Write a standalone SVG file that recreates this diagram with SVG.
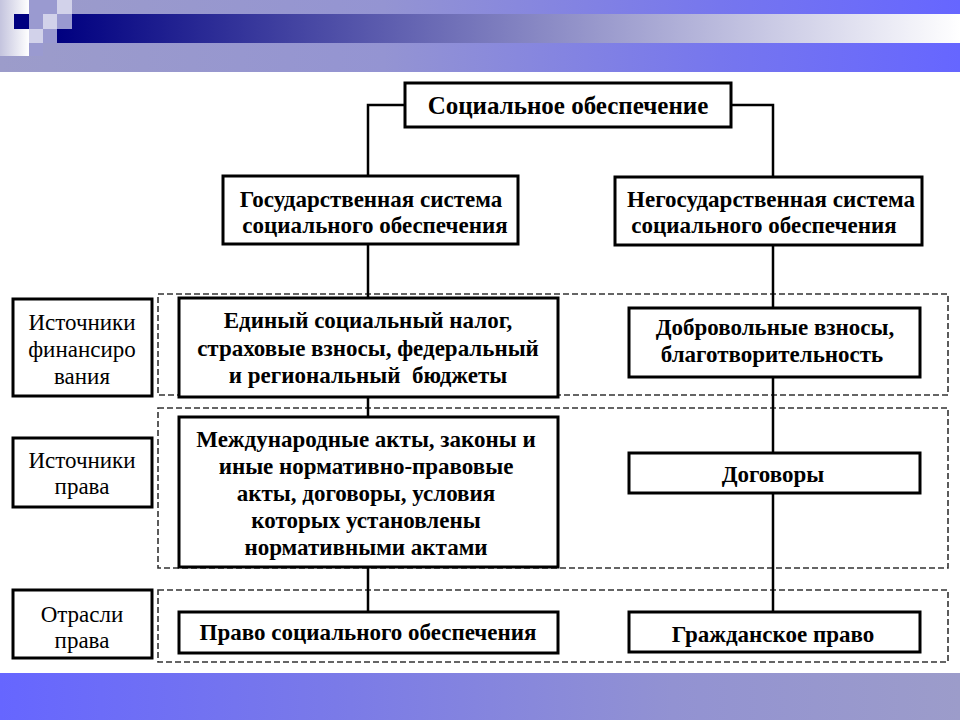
<svg xmlns="http://www.w3.org/2000/svg" width="960" height="720" viewBox="0 0 960 720">
<defs>
<linearGradient id="gTop" x1="0" y1="0" x2="1" y2="0">
<stop offset="0" stop-color="#9c9cca"/>
<stop offset="0.4" stop-color="#9494d2"/>
<stop offset="0.75" stop-color="#7676ee"/>
<stop offset="1" stop-color="#6666ff"/>
</linearGradient>
<linearGradient id="gBot" x1="0" y1="0" x2="1" y2="0">
<stop offset="0" stop-color="#6666ff"/>
<stop offset="0.35" stop-color="#7a7ae8"/>
<stop offset="0.7" stop-color="#9292d2"/>
<stop offset="1" stop-color="#9c9cca"/>
</linearGradient>
<linearGradient id="gNavy" x1="57" y1="0" x2="960" y2="0" gradientUnits="userSpaceOnUse">
<stop offset="0" stop-color="#000080"/>
<stop offset="1" stop-color="#ffffff"/>
</linearGradient>
<linearGradient id="gLight" x1="0" y1="0" x2="1" y2="0">
<stop offset="0" stop-color="#c4c4de"/>
<stop offset="1" stop-color="#ffffff"/>
</linearGradient>
<style>
.box{fill:#fff;stroke:#000;stroke-width:3}
.dash{fill:none;stroke:#333;stroke-width:1.6;stroke-dasharray:6 3}
.conn{fill:none;stroke:#000;stroke-width:2.5}
.b{font-family:"Liberation Serif","DejaVu Serif",serif;font-weight:bold;font-size:23px;fill:#000;text-anchor:middle}
.t{font-family:"Liberation Serif","DejaVu Serif",serif;font-weight:bold;font-size:25px;fill:#000;text-anchor:middle}
.r{font-family:"Liberation Serif","DejaVu Serif",serif;font-size:23px;fill:#000;text-anchor:middle}
.m{fill:#9a9ad0}
.l{fill:#d2d2ea}
</style>
</defs>
<rect width="960" height="720" fill="#fff"/>
<g id="header">
<rect x="0" y="0" width="960" height="14" fill="url(#gTop)"/>
<rect x="0" y="43" width="960" height="29" fill="url(#gTop)"/>
<rect x="57" y="14" width="903" height="29" fill="url(#gNavy)"/>
<rect x="0" y="0" width="29" height="56" fill="url(#gLight)"/>
<rect x="14" y="14" width="15" height="15" fill="#000080"/>
<rect class="m" x="29" y="0" width="28" height="14"/>
<rect class="l" x="57" y="0" width="15" height="14"/>
<rect class="m" x="29" y="14" width="14" height="15"/>
<rect class="l" x="43" y="14" width="14" height="15"/>
<rect class="m" x="57" y="14" width="15" height="15"/>
<rect class="l" x="29" y="29" width="14" height="14"/>
<rect class="m" x="43" y="29" width="14" height="14"/>
<rect class="m" x="29" y="43" width="14" height="13"/>
</g>
<rect id="footer" x="0" y="673" width="960" height="47" fill="url(#gBot)"/>
<g id="rows">
<rect class="dash" x="158" y="294" width="790" height="101"/>
<rect class="dash" x="158" y="408" width="790" height="160"/>
<rect class="dash" x="158" y="590" width="790" height="72"/>
</g>
<g id="connectors">
<path class="conn" d="M405,105 H368 V176"/>
<path class="conn" d="M731,105 H773 V177"/>
<path class="conn" d="M368,244 V612"/>
<path class="conn" d="M773,245 V612"/>
</g>
<g id="root">
<rect class="box" x="405" y="83" width="326" height="44"/>
<text class="t" x="568" y="114">Социальное обеспечение</text>
</g>
<g id="gov">
<rect class="box" x="223" y="176" width="295" height="68"/>
<text class="b" x="371" y="207">Государственная система</text>
<text class="b" x="375" y="233">социального обеспечения</text>
</g>
<g id="nongov">
<rect class="box" x="615" y="177" width="307" height="68"/>
<text class="b" x="771" y="207">Негосударственная система</text>
<text class="b" x="764" y="233">социального обеспечения</text>
</g>
<g id="label-fin">
<rect class="box" x="13" y="299" width="139" height="97"/>
<text class="r" x="82" y="330">Источники</text>
<text class="r" x="82" y="357">финансиро</text>
<text class="r" x="82" y="384">вания</text>
</g>
<g id="label-src">
<rect class="box" x="13" y="438" width="139" height="69"/>
<text class="r" x="82" y="468">Источники</text>
<text class="r" x="82" y="494">права</text>
</g>
<g id="label-branch">
<rect class="box" x="13" y="590" width="139" height="68"/>
<text class="r" x="82" y="622">Отрасли</text>
<text class="r" x="82" y="648">права</text>
</g>
<g id="fin-state">
<rect class="box" x="179" y="298" width="379" height="99"/>
<text class="b" x="368" y="328">Единый социальный налог,</text>
<text class="b" x="368" y="356">страховые взносы, федеральный</text>
<text class="b" x="368" y="383" xml:space="preserve">и региональный  бюджеты</text>
</g>
<g id="fin-private">
<rect class="box" x="629" y="308" width="291" height="69"/>
<text class="b" x="775" y="335">Добровольные взносы,</text>
<text class="b" x="772" y="362">благотворительность</text>
</g>
<g id="law-state">
<rect class="box" x="179" y="417" width="379" height="150"/>
<text class="b" x="366" y="447">Международные акты, законы и</text>
<text class="b" x="366" y="474">иные нормативно-правовые</text>
<text class="b" x="366" y="501">акты, договоры, условия</text>
<text class="b" x="366" y="528">которых установлены</text>
<text class="b" x="366" y="555">нормативными актами</text>
</g>
<g id="law-private">
<rect class="box" x="629" y="453" width="291" height="40"/>
<text class="b" x="773" y="482">Договоры</text>
</g>
<g id="branch-state">
<rect class="box" x="179" y="612" width="379" height="41"/>
<text class="b" x="368" y="640">Право социального обеспечения</text>
</g>
<g id="branch-private">
<rect class="box" x="629" y="612" width="291" height="40"/>
<text class="b" x="773" y="642">Гражданское право</text>
</g>
</svg>
